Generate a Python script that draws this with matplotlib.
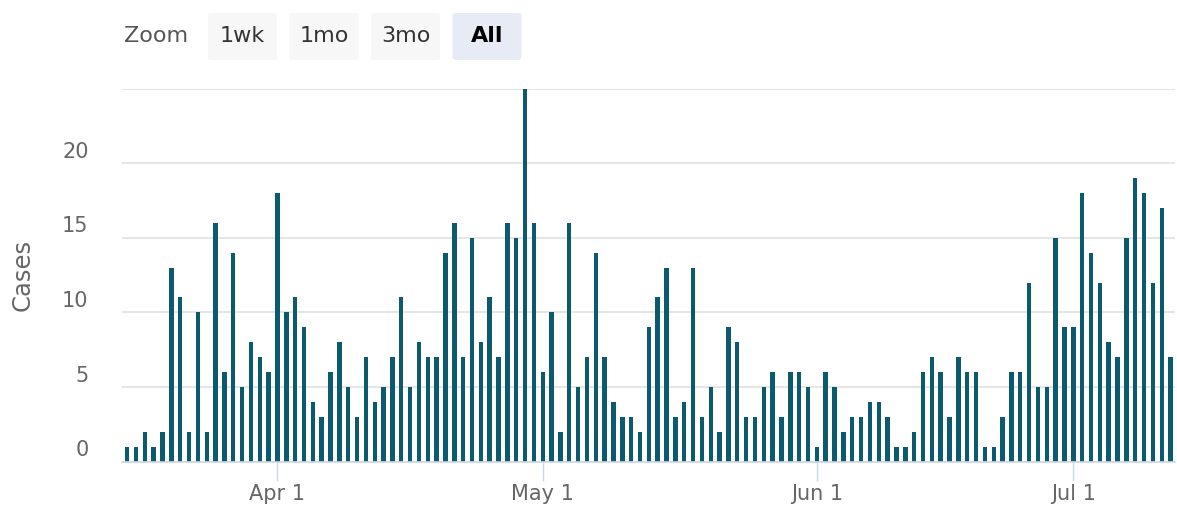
import matplotlib
matplotlib.use("Agg")
import matplotlib.pyplot as plt
import matplotlib.transforms as mtrans
from matplotlib.patches import FancyBboxPatch
import pandas as pd
import numpy as np

# ---- data ----
mar_cases = [1, 1, 2, 1, 2, 13, 11, 2, 10, 2, 16, 6, 14, 5, 8, 7, 6]
apr_cases = [18, 10, 11, 9, 4, 3, 6, 8, 5, 3, 7, 4, 5, 7, 11, 5, 8, 7, 7, 14,
             16, 7, 15, 8, 11, 7, 16, 15, 25, 16]
may_cases = [6, 10, 2, 16, 5, 7, 14, 7, 4, 3, 3, 2, 9, 11, 13, 3, 4, 13, 3, 5,
             2, 9, 8, 3, 3, 5, 6, 3, 6, 6, 5]
jun_cases = [1, 6, 5, 2, 3, 3, 4, 4, 3, 1, 1, 2, 6, 7, 6, 3, 7, 6, 6, 1,
             1, 3, 6, 6, 12, 5, 5, 15, 9]
jul_cases = [9, 18, 14, 12, 8, 7, 15, 19, 18, 12, 17, 7]
cases = mar_cases + apr_cases + may_cases + jun_cases + jul_cases

start_date = "2020-03-15"
end_date = "2020-07-12"
missing_dates = ["2020-06-14"]  # one June day absent from the series (ordinal axis)
dates = pd.date_range(start_date, end_date).drop(pd.to_datetime(missing_dates))

y_ticks = [0, 5, 10, 15, 20, 25]
y_label = "Cases"
zoom_label = "Zoom"
zoom_buttons = ["1wk", "1mo", "3mo", "All"]
selected_button = "All"

# ---- style ----
W, H = 1177, 519
BAR = "#0b5a6e"
GRID = "#e6e6e6"
AXIS = "#ccd6eb"
LABEL = "#666666"
plt.rcParams["font.family"] = ["DejaVu Sans"]

fig = plt.figure(figsize=(W / 100, H / 100), dpi=100)
left, right, top, bottom = 122, 1175, 88.7, 461.5
ax = fig.add_axes([left / W, (H - bottom) / H, (right - left) / W, (bottom - top) / H])

idx = np.arange(len(cases))
ax.bar(idx, cases, width=0.5, color=BAR, zorder=3)

ax.set_xlim(-0.58, 118.5)
ax.set_ylim(0, 25)

# month ticks at first-of-month positions
month_pos = [i for i, d in enumerate(dates) if d.day == 1]
month_lab = [f"{dates[i].strftime('%b')} 1" for i in month_pos]
ax.set_xticks(month_pos)
ax.set_xticklabels(month_lab, fontsize=15, color=LABEL)
ax.tick_params(axis="x", length=14, width=1, color=AXIS, pad=2)

ax.set_yticks(y_ticks)
ax.set_yticklabels([str(v) if v != y_ticks[-1] else "" for v in y_ticks],
                   fontsize=15, color=LABEL)
ax.tick_params(axis="y", length=0, pad=24)
offset = mtrans.ScaledTranslation(0, 1 / 72, fig.dpi_scale_trans)
for lab in ax.get_yticklabels():
    lab.set_verticalalignment("bottom")
    lab.set_transform(lab.get_transform() + offset)

ax.grid(axis="y", color=GRID, linewidth=1.5, zorder=0)
for s in ["top", "right", "left"]:
    ax.spines[s].set_visible(False)
ax.spines["bottom"].set_color(AXIS)
ax.spines["bottom"].set_linewidth(1.2)
ax.spines["bottom"].set_zorder(4)

fig.text(23 / W, (H - 275) / H, y_label, rotation=90, ha="center", va="center",
         fontsize=17.5, color=LABEL)

# ---- zoom buttons ----
fig.text(124 / W, (H - 36) / H, zoom_label, ha="left", va="center", fontsize=16, color="#555555")
bx0, bw, bgap = 208, 69, 12.5
by0, bh = 13, 47
for i, name in enumerate(zoom_buttons):
    x0 = bx0 + i * (bw + bgap)
    sel = name == selected_button
    patch = FancyBboxPatch((x0 / W, (H - by0 - bh) / H), bw / W, bh / H,
                           boxstyle="round,pad=0,rounding_size=0.004",
                           transform=fig.transFigure,
                           facecolor="#e6ebf5" if sel else "#f7f7f7",
                           edgecolor="none")
    fig.add_artist(patch)
    fig.text((x0 + bw / 2) / W, (H - by0 - bh / 2) / H, name, ha="center", va="center",
             fontsize=16, color="#000000" if sel else "#333333",
             fontweight="bold" if sel else "normal")

fig.savefig("out.png", dpi=100)
